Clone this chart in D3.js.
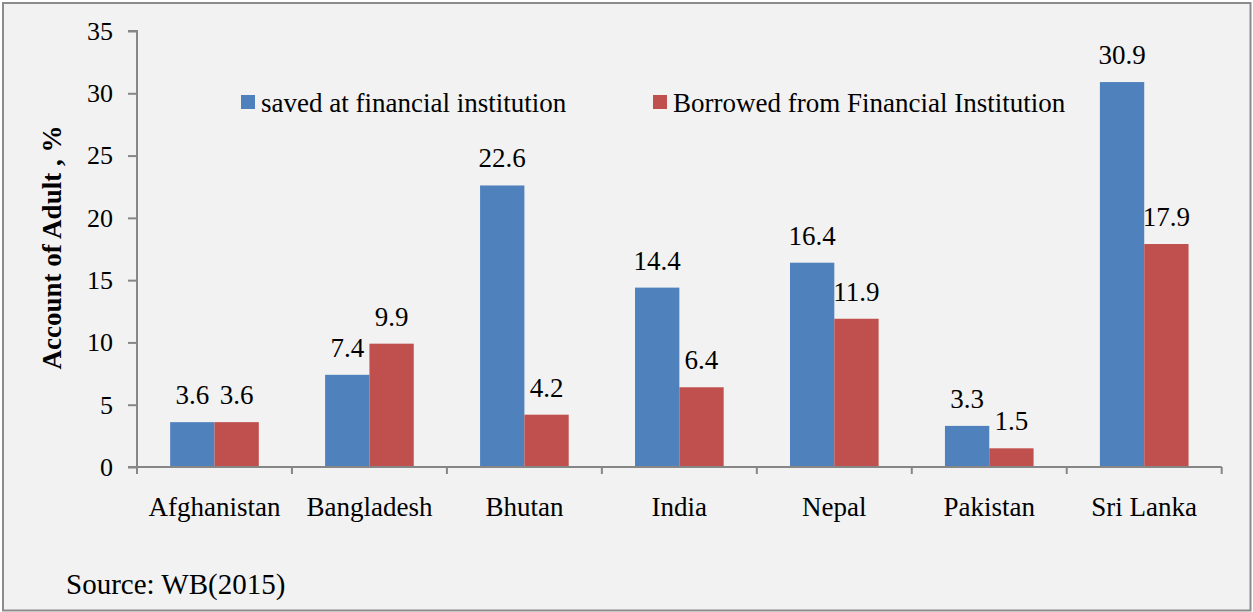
<!DOCTYPE html>
<html>
<head>
<meta charset="utf-8">
<script src="https://cdn.jsdelivr.net/npm/d3@7"></script>
<style>
  html, body { margin: 0; padding: 0; background: #ffffff; }
  svg { display: block; }
  text { font-family: "Liberation Serif", "Times New Roman", serif; fill: #000; }
</style>
</head>
<body>
<script>
// Financial inclusion in South Asia: saving and borrowing at financial institutions
const countries = ["Afghanistan", "Bangladesh", "Bhutan", "India", "Nepal", "Pakistan", "Sri Lanka"];
const savedValues = [3.6, 7.4, 22.6, 14.4, 16.4, 3.3, 30.9];
const borrowedValues = [3.6, 9.9, 4.2, 6.4, 11.9, 1.5, 17.9];
const seriesNames = ["saved at financial institution", "Borrowed from Financial Institution"];
const seriesColors = ["#4F81BD", "#C0504D"];
const yTicks = [0, 5, 10, 15, 20, 25, 30, 35];
const yTitle = "Account of Adult , %";
const sourceNote = "Source: WB(2015)";

const W = 1253, H = 612;
const plot = { left: 137, right: 1221.7, top: 31, bottom: 467 };
const axisColor = "#868686";
const tickFont = 26;
const labelFont = 27;

const svg = d3.select("body").append("svg")
  .attr("width", W).attr("height", H);

// frame
svg.append("rect")
  .attr("x", 3).attr("y", 3).attr("width", 1247.5).attr("height", 607.5)
  .attr("fill", "#F2F2F2").attr("stroke", "#8C8C8C").attr("stroke-width", 2);

const x = d3.scaleBand().domain(countries).range([plot.left, plot.right]).padding(0);
// the pair of bars fills about 57% of each category slot
const groupW = x.bandwidth() * 0.572;
const barX = d3.scaleBand().domain([0, 1])
  .range([(x.bandwidth() - groupW) / 2, (x.bandwidth() + groupW) / 2]);

const y = d3.scaleLinear().domain([0, 35]).range([plot.bottom, plot.top]);

// y axis
const yAxis = svg.append("g")
  .attr("transform", `translate(${plot.left},0)`)
  .call(d3.axisLeft(y).tickValues(yTicks).tickSize(9).tickPadding(15).tickFormat(d3.format("d")));
yAxis.select(".domain").attr("stroke", axisColor).attr("stroke-width", 2)
  .attr("d", `M-9,${y(35)}H0V${y(0)}H-9`);
yAxis.selectAll(".tick line").attr("stroke", axisColor).attr("stroke-width", 2);
yAxis.selectAll(".tick text")
  .style("font-family", '"Liberation Serif", serif')
  .style("font-size", tickFont + "px").attr("fill", "#000");

// bars
const series = [savedValues, borrowedValues];
const groups = svg.append("g").selectAll("g")
  .data(countries).join("g")
  .attr("transform", d => `translate(${x(d)},0)`);

series.forEach((vals, si) => {
  groups.append("rect")
    .attr("x", barX(si))
    .attr("width", barX.bandwidth())
    .attr("y", (d, i) => y(vals[i]))
    .attr("height", (d, i) => y(0) - y(vals[i]))
    .attr("fill", seriesColors[si]);
  groups.append("text")
    .attr("x", barX(si) + barX.bandwidth() / 2)
    .attr("y", (d, i) => y(vals[i]) - 18)
    .attr("text-anchor", "middle")
    .style("font-size", labelFont + "px")
    .text((d, i) => vals[i].toFixed(1));
});

// x axis
const xAxis = svg.append("g")
  .attr("transform", `translate(0,${plot.bottom})`);
xAxis.append("path")
  .attr("d", `M${plot.left},0H${plot.right}`)
  .attr("stroke", axisColor).attr("stroke-width", 2);
const bounds = countries.map(c => x(c)).concat([plot.right]);
xAxis.selectAll("line.sep").data(bounds).join("line")
  .attr("class", "sep")
  .attr("x1", d => d).attr("x2", d => d)
  .attr("y1", 0).attr("y2", 7)
  .attr("stroke", axisColor).attr("stroke-width", 2);
xAxis.selectAll("text.cat").data(countries).join("text")
  .attr("class", "cat")
  .attr("x", d => x(d) + x.bandwidth() / 2)
  .attr("y", 49)
  .attr("text-anchor", "middle")
  .style("font-size", labelFont + "px")
  .text(d => d);

// y title
svg.append("text")
  .attr("transform", `translate(61,247.5) rotate(-90)`)
  .attr("text-anchor", "middle")
  .style("font-size", labelFont + "px")
  .style("font-weight", "bold")
  .text(yTitle);

// legend
const legendPos = [241, 653];
seriesNames.forEach((name, i) => {
  svg.append("rect")
    .attr("x", legendPos[i]).attr("y", 95)
    .attr("width", 14).attr("height", 14)
    .attr("fill", seriesColors[i]);
  svg.append("text")
    .attr("x", legendPos[i] + 20).attr("y", 112)
    .style("font-size", labelFont + "px")
    .text(name);
});

// source note
svg.append("text")
  .attr("x", 66).attr("y", 594)
  .style("font-size", "29px")
  .text(sourceNote);
</script>
</body>
</html>
